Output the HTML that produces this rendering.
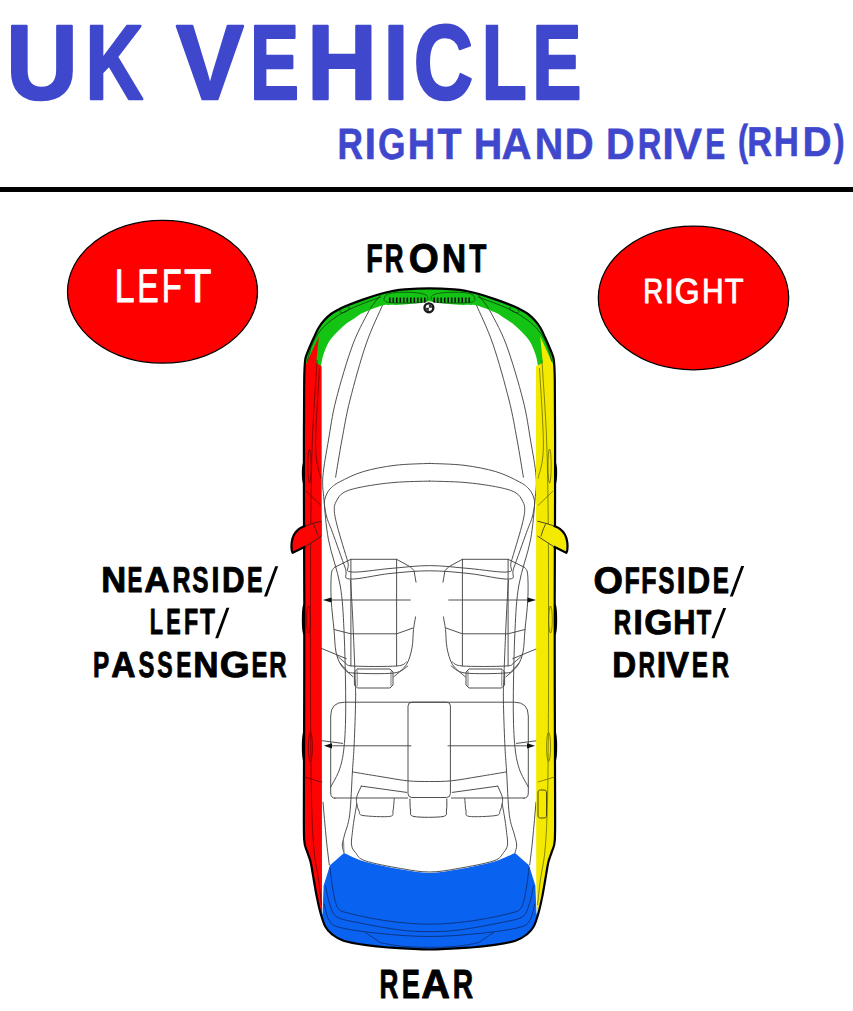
<!DOCTYPE html>
<html><head><meta charset="utf-8">
<style>
html,body{margin:0;padding:0;background:#fff;}
body{width:853px;height:1011px;overflow:hidden;position:relative;}
svg{position:absolute;left:0;top:0;text-rendering:geometricPrecision;}
.b{font-family:"Liberation Sans",sans-serif;font-weight:bold;}
.r{font-family:"Liberation Sans",sans-serif;font-weight:normal;}
</style></head>
<body>
<svg width="853" height="1011" viewBox="0 0 853 1011">
<rect x="0" y="187" width="853" height="5" fill="#000"/>
<ellipse cx="162.5" cy="291.7" rx="95" ry="71.4" fill="#ff0000" stroke="#000" stroke-width="1.25"/>
<ellipse cx="693.5" cy="298" rx="95.2" ry="71.8" fill="#ff0000" stroke="#000" stroke-width="1.25"/>
<g id="car">
<path d="M370.20,308.60 C367.33,314.50 358.70,328.77 353.00,344.00 C347.30,359.23 340.08,384.00 336.00,400.00 C331.92,416.00 330.68,427.27 328.50,440.00 C326.32,452.73 323.65,466.40 322.90,476.40 C322.15,486.40 323.07,489.42 324.00,500.00 C324.93,510.58 325.82,525.73 328.50,539.90 C331.18,554.07 337.52,569.92 340.10,585.00 C342.68,600.08 343.07,611.23 344.00,630.40 C344.93,649.57 345.63,681.17 345.70,700.00 C345.77,718.83 345.37,732.02 344.40,743.40 C343.43,754.78 342.18,761.03 339.90,768.30 C337.62,775.57 332.23,783.88 330.70,787.00" fill="none" stroke="#474747" stroke-width="0.95" stroke-linecap="round" stroke-linejoin="round"/>
<path d="M488.80,308.60 C491.67,314.50 500.30,328.77 506.00,344.00 C511.70,359.23 518.92,384.00 523.00,400.00 C527.08,416.00 528.32,427.27 530.50,440.00 C532.68,452.73 535.35,466.40 536.10,476.40 C536.85,486.40 535.93,489.42 535.00,500.00 C534.07,510.58 533.18,525.73 530.50,539.90 C527.82,554.07 521.48,569.92 518.90,585.00 C516.32,600.08 515.93,611.23 515.00,630.40 C514.07,649.57 513.37,681.17 513.30,700.00 C513.23,718.83 513.63,732.02 514.60,743.40 C515.57,754.78 516.82,761.03 519.10,768.30 C521.38,775.57 526.77,783.88 528.30,787.00" fill="none" stroke="#474747" stroke-width="0.95" stroke-linecap="round" stroke-linejoin="round"/>
<path d="M382.50,305.30 C379.77,311.75 371.52,328.22 366.10,344.00 C360.68,359.78 354.03,384.00 350.00,400.00 C345.97,416.00 344.30,427.13 341.90,440.00 C339.50,452.87 336.65,471.00 335.60,477.20" fill="none" stroke="#474747" stroke-width="0.95" stroke-linecap="round" stroke-linejoin="round"/>
<path d="M476.50,305.30 C479.23,311.75 487.48,328.22 492.90,344.00 C498.32,359.78 504.97,384.00 509.00,400.00 C513.03,416.00 514.70,427.13 517.10,440.00 C519.50,452.87 522.35,471.00 523.40,477.20" fill="none" stroke="#474747" stroke-width="0.95" stroke-linecap="round" stroke-linejoin="round"/>
<path d="M429.50,463.40 C423.75,463.72 406.03,463.93 395.00,465.30 C383.97,466.67 372.53,468.83 363.30,471.60 C354.07,474.37 345.15,479.00 339.60,481.90 C334.05,484.80 332.35,486.48 330.00,489.00 C327.65,491.52 326.42,494.33 325.50,497.00 C324.58,499.67 324.25,501.50 324.50,505.00 C324.75,508.50 325.68,513.47 327.00,518.00 C328.32,522.53 329.35,523.83 332.40,532.20 C335.45,540.57 342.45,560.40 345.30,568.20 C348.15,576.00 342.05,578.12 349.50,579.00 C356.95,579.88 376.67,574.87 390.00,573.50 C403.33,572.13 416.33,570.80 429.50,570.80 C442.67,570.80 455.67,572.13 469.00,573.50 C482.33,574.87 502.05,579.88 509.50,579.00 C516.95,578.12 510.85,576.00 513.70,568.20 C516.55,560.40 523.55,540.57 526.60,532.20 C529.65,523.83 530.68,522.53 532.00,518.00 C533.32,513.47 534.25,508.50 534.50,505.00 C534.75,501.50 534.42,499.67 533.50,497.00 C532.58,494.33 531.35,491.52 529.00,489.00 C526.65,486.48 524.95,484.80 519.40,481.90 C513.85,479.00 504.93,474.37 495.70,471.60 C486.47,468.83 475.03,466.67 464.00,465.30 C452.97,463.93 435.25,463.72 429.50,463.40" fill="none" stroke="#474747" stroke-width="0.95" stroke-linecap="round" stroke-linejoin="round"/>
<path d="M429.50,481.10 C423.75,481.32 406.03,481.47 395.00,482.40 C383.97,483.33 371.80,485.05 363.30,486.70 C354.80,488.35 348.50,489.87 344.00,492.30 C339.50,494.73 337.92,498.30 336.30,501.30 C334.68,504.30 334.10,506.02 334.30,510.30 C334.50,514.58 335.25,518.42 337.50,527.00 C339.75,535.58 345.58,554.32 347.80,561.80 C350.02,569.28 343.77,570.78 350.80,571.90 C357.83,573.02 376.88,569.55 390.00,568.50 C403.12,567.45 416.33,565.60 429.50,565.60 C442.67,565.60 455.88,567.45 469.00,568.50 C482.12,569.55 501.17,573.02 508.20,571.90 C515.23,570.78 508.98,569.28 511.20,561.80 C513.42,554.32 519.25,535.58 521.50,527.00 C523.75,518.42 524.50,514.58 524.70,510.30 C524.90,506.02 524.32,504.30 522.70,501.30 C521.08,498.30 519.50,494.73 515.00,492.30 C510.50,489.87 504.20,488.35 495.70,486.70 C487.20,485.05 475.03,483.33 464.00,482.40 C452.97,481.47 435.25,481.32 429.50,481.10" fill="none" stroke="#474747" stroke-width="0.95" stroke-linecap="round" stroke-linejoin="round"/>
<path d="M350.60,580.40 C350.97,587.00 352.07,604.40 352.80,620.00 C353.53,635.60 354.53,660.67 355.00,674.00 C355.47,687.33 355.73,688.43 355.60,700.00 C355.47,711.57 354.73,731.42 354.20,743.40 C353.67,755.38 353.15,760.03 352.40,771.90 C351.65,783.77 351.02,804.08 349.70,814.60 C348.38,825.12 345.73,829.93 344.50,835.00 C343.27,840.07 342.38,842.05 342.30,845.00 C342.22,847.95 343.72,851.42 344.00,852.70" fill="none" stroke="#474747" stroke-width="0.95" stroke-linecap="round" stroke-linejoin="round"/>
<path d="M508.40,580.40 C508.03,587.00 506.93,604.40 506.20,620.00 C505.47,635.60 504.47,660.67 504.00,674.00 C503.53,687.33 503.27,688.43 503.40,700.00 C503.53,711.57 504.27,731.42 504.80,743.40 C505.33,755.38 505.85,760.03 506.60,771.90 C507.35,783.77 507.98,804.08 509.30,814.60 C510.62,825.12 513.27,829.93 514.50,835.00 C515.73,840.07 516.62,842.05 516.70,845.00 C516.78,847.95 515.28,851.42 515.00,852.70" fill="none" stroke="#474747" stroke-width="0.95" stroke-linecap="round" stroke-linejoin="round"/>
<path d="M350.90,559.30 L350.90,666.00" fill="none" stroke="#474747" stroke-width="0.95" stroke-linecap="round" stroke-linejoin="round"/>
<path d="M508.10,559.30 L508.10,666.00" fill="none" stroke="#474747" stroke-width="0.95" stroke-linecap="round" stroke-linejoin="round"/>
<path d="M396.60,559.30 L396.60,666.00" fill="none" stroke="#474747" stroke-width="0.95" stroke-linecap="round" stroke-linejoin="round"/>
<path d="M462.40,559.30 L462.40,666.00" fill="none" stroke="#474747" stroke-width="0.95" stroke-linecap="round" stroke-linejoin="round"/>
<path d="M334.70,567.30 L350.80,559.30 L396.60,559.30 L410.10,566.70 L414.00,570.60 L416.00,582.20" fill="none" stroke="#474747" stroke-width="0.95" stroke-linecap="round" stroke-linejoin="round"/>
<path d="M524.30,567.30 L508.20,559.30 L462.40,559.30 L448.90,566.70 L445.00,570.60 L443.00,582.20" fill="none" stroke="#474747" stroke-width="0.95" stroke-linecap="round" stroke-linejoin="round"/>
<path d="M334.70,567.30 C334.15,568.38 331.98,568.35 331.40,573.80 C330.82,579.25 330.77,590.72 331.20,600.00 C331.63,609.28 333.20,620.83 334.00,629.50 C334.80,638.17 334.72,645.92 336.00,652.00 C337.28,658.08 338.87,661.88 341.70,666.00 C344.53,670.12 351.12,674.92 353.00,676.70" fill="none" stroke="#474747" stroke-width="0.95" stroke-linecap="round" stroke-linejoin="round"/>
<path d="M524.30,567.30 C524.85,568.38 527.02,568.35 527.60,573.80 C528.18,579.25 528.23,590.72 527.80,600.00 C527.37,609.28 525.80,620.83 525.00,629.50 C524.20,638.17 524.28,645.92 523.00,652.00 C521.72,658.08 520.13,661.88 517.30,666.00 C514.47,670.12 507.88,674.92 506.00,676.70" fill="none" stroke="#474747" stroke-width="0.95" stroke-linecap="round" stroke-linejoin="round"/>
<path d="M415.60,616.90 C415.25,619.00 414.10,624.35 413.50,629.50 C412.90,634.65 413.18,641.93 412.00,647.80 C410.82,653.67 409.43,659.88 406.40,664.70 C403.37,669.52 395.90,674.70 393.80,676.70" fill="none" stroke="#474747" stroke-width="0.95" stroke-linecap="round" stroke-linejoin="round"/>
<path d="M443.40,616.90 C443.75,619.00 444.90,624.35 445.50,629.50 C446.10,634.65 445.82,641.93 447.00,647.80 C448.18,653.67 449.57,659.88 452.60,664.70 C455.63,669.52 463.10,674.70 465.20,676.70" fill="none" stroke="#474747" stroke-width="0.95" stroke-linecap="round" stroke-linejoin="round"/>
<path d="M334.00,629.50 L350.90,633.80 L396.60,633.80 L412.80,628.10" fill="none" stroke="#474747" stroke-width="0.95" stroke-linecap="round" stroke-linejoin="round"/>
<path d="M525.00,629.50 L508.10,633.80 L462.40,633.80 L446.20,628.10" fill="none" stroke="#474747" stroke-width="0.95" stroke-linecap="round" stroke-linejoin="round"/>
<path d="M337.50,656.00 C338.75,657.08 342.42,660.83 345.00,662.50 C347.58,664.17 344.40,665.42 353.00,666.00 C361.60,666.58 387.70,666.68 396.60,666.00 C405.50,665.32 404.77,662.58 406.40,661.90" fill="none" stroke="#474747" stroke-width="0.95" stroke-linecap="round" stroke-linejoin="round"/>
<path d="M521.50,656.00 C520.25,657.08 516.58,660.83 514.00,662.50 C511.42,664.17 514.60,665.42 506.00,666.00 C497.40,666.58 471.30,666.68 462.40,666.00 C453.50,665.32 454.23,662.58 452.60,661.90" fill="none" stroke="#474747" stroke-width="0.95" stroke-linecap="round" stroke-linejoin="round"/>
<path d="M340.30,663.30 C341.25,664.33 343.88,667.88 346.00,669.50 C348.12,671.12 345.03,672.42 353.00,673.00 C360.97,673.58 384.67,674.17 393.80,673.00 C402.93,671.83 405.47,667.17 407.80,666.00" fill="none" stroke="#474747" stroke-width="0.95" stroke-linecap="round" stroke-linejoin="round"/>
<path d="M518.70,663.30 C517.75,664.33 515.12,667.88 513.00,669.50 C510.88,671.12 513.97,672.42 506.00,673.00 C498.03,673.58 474.33,674.17 465.20,673.00 C456.07,671.83 453.53,667.17 451.20,666.00" fill="none" stroke="#474747" stroke-width="0.95" stroke-linecap="round" stroke-linejoin="round"/>
<path d="M357.40,669.00 L390.00,669.00 L393.00,672.00 L393.00,685.00 L390.00,688.00 L357.40,688.00 L354.40,685.00 L354.40,672.00 L357.40,669.00" fill="none" stroke="#474747" stroke-width="0.95" stroke-linecap="round" stroke-linejoin="round"/>
<path d="M501.60,669.00 L469.00,669.00 L466.00,672.00 L466.00,685.00 L469.00,688.00 L501.60,688.00 L504.60,685.00 L504.60,672.00 L501.60,669.00" fill="none" stroke="#474747" stroke-width="0.95" stroke-linecap="round" stroke-linejoin="round"/>
<path d="M357.20,671.00 L357.20,686.00" fill="none" stroke="#474747" stroke-width="0.7" stroke-linecap="round" stroke-linejoin="round"/>
<path d="M501.80,671.00 L501.80,686.00" fill="none" stroke="#474747" stroke-width="0.7" stroke-linecap="round" stroke-linejoin="round"/>
<path d="M391.00,671.00 L391.00,686.00" fill="none" stroke="#474747" stroke-width="0.7" stroke-linecap="round" stroke-linejoin="round"/>
<path d="M468.00,671.00 L468.00,686.00" fill="none" stroke="#474747" stroke-width="0.7" stroke-linecap="round" stroke-linejoin="round"/>
<path d="M331.00,600.00 L410.30,600.00" fill="none" stroke="#474747" stroke-width="0.95" stroke-linecap="round" stroke-linejoin="round"/>
<path d="M528.00,600.00 L448.70,600.00" fill="none" stroke="#474747" stroke-width="0.95" stroke-linecap="round" stroke-linejoin="round"/>
<path d="M331.90,745.80 L411.00,745.80" fill="none" stroke="#474747" stroke-width="0.95" stroke-linecap="round" stroke-linejoin="round"/>
<path d="M527.10,745.80 L448.00,745.80" fill="none" stroke="#474747" stroke-width="0.95" stroke-linecap="round" stroke-linejoin="round"/>
<path d="M315.00,645.70 L346.30,658.70" fill="none" stroke="#444" stroke-width="0.95" stroke-linecap="round" stroke-linejoin="round"/>
<path d="M544.00,645.70 L512.70,658.70" fill="none" stroke="#444" stroke-width="0.95" stroke-linecap="round" stroke-linejoin="round"/>
<path d="M322.10,740.70 L342.60,743.40" fill="none" stroke="#474747" stroke-width="0.95" stroke-linecap="round" stroke-linejoin="round"/>
<path d="M536.90,740.70 L516.40,743.40" fill="none" stroke="#474747" stroke-width="0.95" stroke-linecap="round" stroke-linejoin="round"/>
<path d="M315.00,777.20 L322.10,781.70" fill="none" stroke="#444" stroke-width="0.95" stroke-linecap="round" stroke-linejoin="round"/>
<path d="M544.00,777.20 L536.90,781.70" fill="none" stroke="#444" stroke-width="0.95" stroke-linecap="round" stroke-linejoin="round"/>
<path d="M334.60,798.00 L407.60,798.00" fill="none" stroke="#474747" stroke-width="0.95" stroke-linecap="round" stroke-linejoin="round"/>
<path d="M524.40,798.00 L451.40,798.00" fill="none" stroke="#474747" stroke-width="0.95" stroke-linecap="round" stroke-linejoin="round"/>
<path d="M352.40,771.90 C357.00,772.67 370.80,775.02 380.00,776.50 C389.20,777.98 399.35,779.97 407.60,780.80 C415.85,781.63 422.20,781.50 429.50,781.50 C436.80,781.50 443.15,781.63 451.40,780.80 C459.65,779.97 469.80,777.98 479.00,776.50 C488.20,775.02 502.00,772.67 506.60,771.90" fill="none" stroke="#474747" stroke-width="0.95" stroke-linecap="round" stroke-linejoin="round"/>
<path d="M361.30,786.10 L406.70,792.40" fill="none" stroke="#474747" stroke-width="0.95" stroke-linecap="round" stroke-linejoin="round"/>
<path d="M497.70,786.10 L452.30,792.40" fill="none" stroke="#474747" stroke-width="0.95" stroke-linecap="round" stroke-linejoin="round"/>
<path d="M361.30,786.10 C360.55,787.88 357.55,793.82 356.80,796.80 C356.05,799.78 356.43,801.63 356.80,804.00 C357.17,806.37 357.97,809.08 359.00,811.00 C360.03,812.92 357.87,814.60 363.00,815.50 C368.13,816.40 384.80,817.15 389.80,816.40 C394.80,815.65 392.27,813.97 393.00,811.00 C393.73,808.03 394.00,800.67 394.20,798.60" fill="none" stroke="#474747" stroke-width="0.95" stroke-linecap="round" stroke-linejoin="round"/>
<path d="M497.70,786.10 C498.45,787.88 501.45,793.82 502.20,796.80 C502.95,799.78 502.57,801.63 502.20,804.00 C501.83,806.37 501.03,809.08 500.00,811.00 C498.97,812.92 501.13,814.60 496.00,815.50 C490.87,816.40 474.20,817.15 469.20,816.40 C464.20,815.65 466.73,813.97 466.00,811.00 C465.27,808.03 465.00,800.67 464.80,798.60" fill="none" stroke="#474747" stroke-width="0.95" stroke-linecap="round" stroke-linejoin="round"/>
<path d="M356.80,804.00 C356.33,806.67 354.73,815.27 354.00,820.00 C353.27,824.73 352.82,828.25 352.40,832.40 C351.98,836.55 350.98,841.53 351.50,844.90 C352.02,848.27 353.22,849.95 355.50,852.60 C357.78,855.25 357.73,858.17 365.20,860.80 C372.67,863.43 389.58,866.53 400.30,868.40 C411.02,870.27 419.77,872.00 429.50,872.00 C439.23,872.00 447.98,870.27 458.70,868.40 C469.42,866.53 486.33,863.43 493.80,860.80 C501.27,858.17 501.22,855.25 503.50,852.60 C505.78,849.95 506.98,848.27 507.50,844.90 C508.02,841.53 507.02,836.55 506.60,832.40 C506.18,828.25 505.73,824.73 505.00,820.00 C504.27,815.27 502.67,806.67 502.20,804.00" fill="none" stroke="#474747" stroke-width="0.95" stroke-linecap="round" stroke-linejoin="round"/>
<path d="M323.00,802.20 C323.57,808.50 325.35,829.53 326.40,840.00 C327.45,850.47 328.82,860.83 329.30,865.00" fill="none" stroke="#474747" stroke-width="0.95" stroke-linecap="round" stroke-linejoin="round"/>
<path d="M536.00,802.20 C535.43,808.50 533.65,829.53 532.60,840.00 C531.55,850.47 530.18,860.83 529.70,865.00" fill="none" stroke="#474747" stroke-width="0.95" stroke-linecap="round" stroke-linejoin="round"/>
<path d="M410.00,799.00 C410.08,800.83 409.83,807.08 410.50,810.00 C411.17,812.92 408.58,815.42 414.00,816.50 C419.42,817.58 437.58,817.58 443.00,816.50 C448.42,815.42 445.87,812.92 446.50,810.00 C447.13,807.08 446.75,800.83 446.80,799.00" fill="none" stroke="#474747" stroke-width="1.0" stroke-linecap="round" stroke-linejoin="round"/>
<path d="M335.5,798.2 Q330.7,798.2 330.7,793 L330.7,716 Q330.7,702.2 344.5,702.2 L514.5,702.2 Q528.3,702.2 528.3,716 L528.3,793 Q528.3,798.2 523.5,798.2" fill="none" stroke="#474747" stroke-width="0.95" />
<path d="M412,702.2 L446.7,702.2 Q450.4,702.2 450.4,706 L450.4,793.5 Q450.4,797.5 446.5,797.5 L412,797.5 Q408,797.5 408,793.5 L408,706 Q408,702.2 412,702.2Z" fill="none" stroke="#474747" stroke-width="0.95" />
<path d="M321.00,366.30 C321.33,364.58 321.88,359.72 323.00,356.00 C324.12,352.28 326.12,347.17 327.70,344.00 C329.28,340.83 330.58,339.33 332.50,337.00 C334.42,334.67 336.88,332.25 339.20,330.00 C341.52,327.75 343.67,325.58 346.40,323.50 C349.13,321.42 352.83,319.28 355.60,317.50 C358.37,315.72 358.60,314.78 363.00,312.80 C367.40,310.82 377.75,306.92 382.00,305.60 C386.25,304.28 385.50,305.03 388.50,304.90 C391.50,304.77 395.80,305.02 400.00,304.80 C404.20,304.58 410.03,303.97 413.70,303.60 C417.37,303.23 419.37,303.00 422.00,302.60 C424.63,302.20 427.00,301.20 429.50,301.20 C432.00,301.20 434.37,302.20 437.00,302.60 C439.63,303.00 441.63,303.23 445.30,303.60 C448.97,303.97 454.80,304.58 459.00,304.80 C463.20,305.02 467.50,304.77 470.50,304.90 C473.50,305.03 472.75,304.28 477.00,305.60 C481.25,306.92 491.60,310.82 496.00,312.80 C500.40,314.78 500.63,315.72 503.40,317.50 C506.17,319.28 509.87,321.42 512.60,323.50 C515.33,325.58 517.48,327.75 519.80,330.00 C522.12,332.25 524.58,334.67 526.50,337.00 C528.42,339.33 529.72,340.83 531.30,344.00 C532.88,347.17 534.88,352.28 536.00,356.00 C537.12,359.72 537.67,364.58 538.00,366.30 L553.00,366.3 L554.00,366.30 C553.90,365.25 553.88,362.48 553.40,360.00 C552.92,357.52 552.47,355.10 551.10,351.40 C549.73,347.70 546.97,341.70 545.20,337.80 C543.43,333.90 542.20,330.88 540.50,328.00 C538.80,325.12 537.08,322.83 535.00,320.50 C532.92,318.17 530.53,315.88 528.00,314.00 C525.47,312.12 522.37,310.57 519.80,309.20 C517.23,307.83 516.53,307.40 512.60,305.80 C508.67,304.20 501.95,301.60 496.20,299.60 C490.45,297.60 483.03,295.23 478.10,293.80 C473.17,292.37 470.60,291.75 466.60,291.00 C462.60,290.25 460.28,289.75 454.10,289.30 C447.92,288.85 437.70,288.30 429.50,288.30 C421.30,288.30 411.08,288.85 404.90,289.30 C398.72,289.75 396.40,290.25 392.40,291.00 C388.40,291.75 385.83,292.37 380.90,293.80 C375.97,295.23 368.55,297.60 362.80,299.60 C357.05,301.60 350.33,304.20 346.40,305.80 C342.47,307.40 341.77,307.83 339.20,309.20 C336.63,310.57 333.53,312.12 331.00,314.00 C328.47,315.88 326.08,318.17 324.00,320.50 C321.92,322.83 320.20,325.12 318.50,328.00 C316.80,330.88 315.57,333.90 313.80,337.80 C312.03,341.70 309.27,347.70 307.90,351.40 C306.53,355.10 306.08,357.52 305.60,360.00 C305.12,362.48 305.10,365.25 305.00,366.30 L306,366.3Z" fill="#14c414" stroke="none" stroke-width="1" />
<path d="M318.80,336.60 L306.70,362.70 L305.00,366.00 C304.87,368.33 304.38,367.67 304.20,380.00 C304.02,392.33 303.93,416.67 303.90,440.00 C303.87,463.33 303.93,493.33 304.00,520.00 C304.07,546.67 304.27,570.00 304.30,600.00 C304.33,630.00 304.27,666.67 304.20,700.00 C304.13,733.33 303.90,776.67 303.90,800.00 C303.90,823.33 303.67,831.43 304.20,840.00 C304.73,848.57 306.05,847.80 307.10,851.40 C308.15,855.00 309.55,857.82 310.50,861.60 C311.45,865.38 311.75,868.22 312.80,874.10 C313.85,879.98 315.47,890.25 316.80,896.90 C318.13,903.55 320.13,911.15 320.80,914.00 L322,914 L321.6,366.3 L316.2,362.7 Z" fill="#fd0303" stroke="none" stroke-width="1" />
<path d="M540.20,336.60 L552.30,362.70 L554.00,366.00 C554.13,368.33 554.62,367.67 554.80,380.00 C554.98,392.33 555.07,416.67 555.10,440.00 C555.13,463.33 555.07,493.33 555.00,520.00 C554.93,546.67 554.73,570.00 554.70,600.00 C554.67,630.00 554.73,666.67 554.80,700.00 C554.87,733.33 555.10,776.67 555.10,800.00 C555.10,823.33 555.33,831.43 554.80,840.00 C554.27,848.57 552.95,847.80 551.90,851.40 C550.85,855.00 549.45,857.82 548.50,861.60 C547.55,865.38 547.25,868.22 546.20,874.10 C545.15,879.98 543.53,890.25 542.20,896.90 C540.87,903.55 538.87,911.15 538.20,914.00 L537.0,914 L536.2,880 L536.0,366.3 L542.8,362.7 Z" fill="#f4ea00" stroke="none" stroke-width="1" />
<path d="M322.50,914.00 L323.60,885.70 L330.00,865.30 L344.00,853.00 L344.00,853.00 C347.53,854.47 355.82,859.08 365.20,861.80 C374.58,864.52 389.58,867.45 400.30,869.30 C411.02,871.15 419.77,872.90 429.50,872.90 C439.23,872.90 447.98,871.15 458.70,869.30 C469.42,867.45 484.42,864.52 493.80,861.80 C503.18,859.08 511.47,854.47 515.00,853.00 L515.00,853.00 L529.00,865.30 L535.40,885.70 L536.50,914.00 L536.50,914.00 C536.78,914.00 538.67,911.92 538.20,914.00 C537.73,916.08 535.58,923.10 533.70,926.50 C531.82,929.90 529.93,932.03 526.90,934.40 C523.87,936.77 521.20,938.90 515.50,940.70 C509.80,942.50 500.12,944.07 492.70,945.20 C485.28,946.33 481.53,946.78 471.00,947.50 C460.47,948.22 436.42,949.17 429.50,949.50 L429.50,949.50 C422.58,949.17 398.53,948.22 388.00,947.50 C377.47,946.78 373.72,946.33 366.30,945.20 C358.88,944.07 349.20,942.50 343.50,940.70 C337.80,938.90 335.13,936.77 332.10,934.40 C329.07,932.03 327.18,929.90 325.30,926.50 C323.42,923.10 321.27,916.08 320.80,914.00 C320.33,911.92 322.22,914.00 322.50,914.00Z" fill="#0a62f0" stroke="none" stroke-width="1" />
<path d="M429.50,288.30 C421.30,288.30 411.08,288.85 404.90,289.30 C398.72,289.75 396.40,290.25 392.40,291.00 C388.40,291.75 385.83,292.37 380.90,293.80 C375.97,295.23 368.55,297.60 362.80,299.60 C357.05,301.60 350.33,304.20 346.40,305.80 C342.47,307.40 341.77,307.83 339.20,309.20 C336.63,310.57 333.53,312.12 331.00,314.00 C328.47,315.88 326.08,318.17 324.00,320.50 C321.92,322.83 320.20,325.12 318.50,328.00 C316.80,330.88 315.57,333.90 313.80,337.80 C312.03,341.70 309.33,347.70 307.90,351.40 C306.47,355.10 305.82,355.23 305.20,360.00 C304.58,364.77 304.42,366.67 304.20,380.00 C303.98,393.33 303.93,416.67 303.90,440.00 C303.87,463.33 303.93,493.33 304.00,520.00 C304.07,546.67 304.27,570.00 304.30,600.00 C304.33,630.00 304.27,666.67 304.20,700.00 C304.13,733.33 303.90,776.67 303.90,800.00 C303.90,823.33 303.67,831.43 304.20,840.00 C304.73,848.57 306.05,847.80 307.10,851.40 C308.15,855.00 309.55,857.82 310.50,861.60 C311.45,865.38 311.75,868.22 312.80,874.10 C313.85,879.98 315.47,890.25 316.80,896.90 C318.13,903.55 319.38,909.07 320.80,914.00 C322.22,918.93 323.42,923.10 325.30,926.50 C327.18,929.90 329.07,932.03 332.10,934.40 C335.13,936.77 337.80,938.90 343.50,940.70 C349.20,942.50 358.88,944.07 366.30,945.20 C373.72,946.33 377.47,946.78 388.00,947.50 C398.53,948.22 415.67,949.50 429.50,949.50 C443.33,949.50 460.47,948.22 471.00,947.50 C481.53,946.78 485.28,946.33 492.70,945.20 C500.12,944.07 509.80,942.50 515.50,940.70 C521.20,938.90 523.87,936.77 526.90,934.40 C529.93,932.03 531.82,929.90 533.70,926.50 C535.58,923.10 536.78,918.93 538.20,914.00 C539.62,909.07 540.87,903.55 542.20,896.90 C543.53,890.25 545.15,879.98 546.20,874.10 C547.25,868.22 547.55,865.38 548.50,861.60 C549.45,857.82 550.85,855.00 551.90,851.40 C552.95,847.80 554.27,848.57 554.80,840.00 C555.33,831.43 555.10,823.33 555.10,800.00 C555.10,776.67 554.87,733.33 554.80,700.00 C554.73,666.67 554.67,630.00 554.70,600.00 C554.73,570.00 554.93,546.67 555.00,520.00 C555.07,493.33 555.13,463.33 555.10,440.00 C555.07,416.67 555.02,393.33 554.80,380.00 C554.58,366.67 554.42,364.77 553.80,360.00 C553.18,355.23 552.53,355.10 551.10,351.40 C549.67,347.70 546.97,341.70 545.20,337.80 C543.43,333.90 542.20,330.88 540.50,328.00 C538.80,325.12 537.08,322.83 535.00,320.50 C532.92,318.17 530.53,315.88 528.00,314.00 C525.47,312.12 522.37,310.57 519.80,309.20 C517.23,307.83 516.53,307.40 512.60,305.80 C508.67,304.20 501.95,301.60 496.20,299.60 C490.45,297.60 483.03,295.23 478.10,293.80 C473.17,292.37 470.60,291.75 466.60,291.00 C462.60,290.25 460.28,289.75 454.10,289.30 C447.92,288.85 437.70,288.30 429.50,288.30Z" fill="none" stroke="#000" stroke-width="2.2" />
<path d="M317.10,360.00 C316.32,373.17 313.45,412.33 312.40,439.00 C311.35,465.67 311.12,493.17 310.80,520.00 C310.48,546.83 310.55,570.00 310.50,600.00 C310.45,630.00 310.33,666.67 310.50,700.00 C310.67,733.33 310.92,775.00 311.50,800.00 C312.08,825.00 312.82,836.67 314.00,850.00 C315.18,863.33 317.35,870.83 318.60,880.00 C319.85,889.17 321.02,900.83 321.50,905.00" fill="none" stroke="#5a0505" stroke-width="0.7" />
<path d="M541.90,360.00 C542.68,373.17 545.55,412.33 546.60,439.00 C547.65,465.67 547.88,493.17 548.20,520.00 C548.52,546.83 548.45,570.00 548.50,600.00 C548.55,630.00 548.67,666.67 548.50,700.00 C548.33,733.33 548.08,775.00 547.50,800.00 C546.92,825.00 546.18,836.67 545.00,850.00 C543.82,863.33 541.65,870.83 540.40,880.00 C539.15,889.17 537.98,900.83 537.50,905.00" fill="none" stroke="#5a5a00" stroke-width="0.7" />
<path d="M319.50,368.00 C318.85,381.17 315.35,428.57 315.60,447.00 C315.85,465.43 320.10,473.33 321.00,478.60" fill="none" stroke="#5a0505" stroke-width="0.7" />
<path d="M539.50,368.00 C540.15,381.17 543.65,428.57 543.40,447.00 C543.15,465.43 538.90,473.33 538.00,478.60" fill="none" stroke="#5a5a00" stroke-width="0.7" />
<path d="M306.00,491.00 C308.50,493.42 318.50,503.08 321.00,505.50" fill="none" stroke="#5a0505" stroke-width="0.7" />
<path d="M553.00,491.00 C550.50,493.42 540.50,503.08 538.00,505.50" fill="none" stroke="#5a5a00" stroke-width="0.7" />
<path d="M304.50,777.00 C307.25,777.83 318.25,781.17 321.00,782.00" fill="none" stroke="#5a0505" stroke-width="0.7" />
<path d="M554.50,777.00 C551.75,777.83 540.75,781.17 538.00,782.00" fill="none" stroke="#5a5a00" stroke-width="0.7" />
<path d="M307.30,361.50 C308.08,358.75 309.88,350.08 312.00,345.00 C314.12,339.92 316.73,335.17 320.00,331.00 C323.27,326.83 327.27,323.33 331.60,320.00 C335.93,316.67 340.93,313.67 346.00,311.00 C351.07,308.33 356.18,306.33 362.00,304.00 C367.82,301.67 377.75,298.17 380.90,297.00" fill="none" stroke="#0d3a0a" stroke-width="0.8" />
<path d="M551.70,361.50 C550.92,358.75 549.12,350.08 547.00,345.00 C544.88,339.92 542.27,335.17 539.00,331.00 C535.73,326.83 531.73,323.33 527.40,320.00 C523.07,316.67 518.07,313.67 513.00,311.00 C507.93,308.33 502.82,306.33 497.00,304.00 C491.18,301.67 481.25,298.17 478.10,297.00" fill="none" stroke="#0d3a0a" stroke-width="0.8" />
<path d="M370.20,308.60 C371.00,307.50 373.22,304.32 375.00,302.00 C376.78,299.68 379.92,295.92 380.90,294.70" fill="none" stroke="#0d3a0a" stroke-width="0.8" />
<path d="M488.80,308.60 C488.00,307.50 485.78,304.32 484.00,302.00 C482.22,299.68 479.08,295.92 478.10,294.70" fill="none" stroke="#0d3a0a" stroke-width="0.8" />
<path d="M340,311.5 a5,2.2 -25 1,0 9.5,-3.5 a5,2.2 -25 1,0 -9.5,3.5Z" fill="none" stroke="#0d3a0a" stroke-width="0.7" />
<path d="M519.0,311.5 a5,2.2 25 1,1 -9.5,-3.5 a5,2.2 25 1,1 9.5,3.5Z" fill="none" stroke="#0d3a0a" stroke-width="0.7" />
<path d="M384,299.5 C384,293 392,292.3 405,292.3 C420,292.3 428,294 428,298 C428,301.5 425,303 410,303 C392,303 384,303 384,299.5Z" fill="none" stroke="#0d3a0a" stroke-width="0.7" />
<path d="M475.0,299.5 C475.0,293 467.0,292.3 454.0,292.3 C439.0,292.3 431.0,294 431.0,298 C431.0,301.5 434.0,303 449.0,303 C467.0,303 475.0,303 475.0,299.5Z" fill="none" stroke="#0d3a0a" stroke-width="0.7" />
<path d="M389.80,297.6 L389.80,302.7" fill="none" stroke="#111" stroke-width="1.6" />
<path d="M469.20,297.6 L469.20,302.7" fill="none" stroke="#111" stroke-width="1.6" />
<path d="M393.30,297.6 L393.30,302.7" fill="none" stroke="#111" stroke-width="1.6" />
<path d="M465.70,297.6 L465.70,302.7" fill="none" stroke="#111" stroke-width="1.6" />
<path d="M396.80,297.6 L396.80,302.7" fill="none" stroke="#111" stroke-width="1.6" />
<path d="M462.20,297.6 L462.20,302.7" fill="none" stroke="#111" stroke-width="1.6" />
<path d="M400.30,297.6 L400.30,302.7" fill="none" stroke="#111" stroke-width="1.6" />
<path d="M458.70,297.6 L458.70,302.7" fill="none" stroke="#111" stroke-width="1.6" />
<path d="M403.80,297.6 L403.80,302.7" fill="none" stroke="#111" stroke-width="1.6" />
<path d="M455.20,297.6 L455.20,302.7" fill="none" stroke="#111" stroke-width="1.6" />
<path d="M407.30,297.6 L407.30,302.7" fill="none" stroke="#111" stroke-width="1.6" />
<path d="M451.70,297.6 L451.70,302.7" fill="none" stroke="#111" stroke-width="1.6" />
<path d="M410.80,297.6 L410.80,302.7" fill="none" stroke="#111" stroke-width="1.6" />
<path d="M448.20,297.6 L448.20,302.7" fill="none" stroke="#111" stroke-width="1.6" />
<path d="M414.30,297.6 L414.30,302.7" fill="none" stroke="#111" stroke-width="1.6" />
<path d="M444.70,297.6 L444.70,302.7" fill="none" stroke="#111" stroke-width="1.6" />
<path d="M417.80,297.6 L417.80,302.7" fill="none" stroke="#111" stroke-width="1.6" />
<path d="M441.20,297.6 L441.20,302.7" fill="none" stroke="#111" stroke-width="1.6" />
<path d="M421.30,297.6 L421.30,302.7" fill="none" stroke="#111" stroke-width="1.6" />
<path d="M437.70,297.6 L437.70,302.7" fill="none" stroke="#111" stroke-width="1.6" />
<path d="M424.80,297.6 L424.80,302.7" fill="none" stroke="#111" stroke-width="1.6" />
<path d="M434.20,297.6 L434.20,302.7" fill="none" stroke="#111" stroke-width="1.6" />
<circle cx="428.9" cy="307.8" r="4.4" fill="#fff" stroke="#1a1a1a" stroke-width="2.4"/>
<path d="M428.9,307.8 L428.9,304.6 A3.2,3.2 0 0,1 432.1,307.8Z M428.9,307.8 L428.9,311 A3.2,3.2 0 0,1 425.7,307.8Z" fill="#333"/>
<path d="M329.90,867.00 C330.42,870.83 331.65,883.17 333.00,890.00 C334.35,896.83 335.17,904.08 338.00,908.00 C340.83,911.92 341.67,911.33 350.00,913.50 C358.33,915.67 374.75,919.22 388.00,921.00 C401.25,922.78 415.67,924.20 429.50,924.20 C443.33,924.20 457.75,922.78 471.00,921.00 C484.25,919.22 500.67,915.67 509.00,913.50 C517.33,911.33 518.17,911.92 521.00,908.00 C523.83,904.08 524.65,896.83 526.00,890.00 C527.35,883.17 528.58,870.83 529.10,867.00" fill="none" stroke="#0a2a6a" stroke-width="0.8" />
<path d="M325.30,885.50 C326.08,888.75 328.05,899.75 330.00,905.00 C331.95,910.25 332.00,914.00 337.00,917.00 C342.00,920.00 349.50,920.83 360.00,923.00 C370.50,925.17 388.42,928.57 400.00,930.00 C411.58,931.43 419.67,931.60 429.50,931.60 C439.33,931.60 447.42,931.43 459.00,930.00 C470.58,928.57 488.50,925.17 499.00,923.00 C509.50,920.83 517.00,920.00 522.00,917.00 C527.00,914.00 527.05,910.25 529.00,905.00 C530.95,899.75 532.92,888.75 533.70,885.50" fill="none" stroke="#0a2a6a" stroke-width="0.8" />
<path d="M324.20,903.70 C325.00,906.42 326.37,916.03 329.00,920.00 C331.63,923.97 331.50,925.25 340.00,927.50 C348.50,929.75 365.08,932.00 380.00,933.50 C394.92,935.00 413.00,936.50 429.50,936.50 C446.00,936.50 464.08,935.00 479.00,933.50 C493.92,932.00 510.50,929.75 519.00,927.50 C527.50,925.25 527.37,923.97 530.00,920.00 C532.63,916.03 534.00,906.42 534.80,903.70" fill="none" stroke="#0a2a6a" stroke-width="0.8" />
<path d="M365.30,932.50 C367.08,933.67 373.18,937.75 376.00,939.50 C378.82,941.25 377.37,941.83 382.20,943.00 C387.03,944.17 397.12,945.78 405.00,946.50 C412.88,947.22 421.33,947.30 429.50,947.30 C437.67,947.30 446.12,947.22 454.00,946.50 C461.88,945.78 471.97,944.17 476.80,943.00 C481.63,941.83 480.18,941.25 483.00,939.50 C485.82,937.75 491.92,933.67 493.70,932.50" fill="none" stroke="#0a2a6a" stroke-width="0.8" />
<path d="M343.50,840.00 C343.58,842.08 343.92,850.42 344.00,852.50" fill="none" stroke="#777" stroke-width="1" />
<path d="M322.8,600 L331.5,597.4 L331.5,602.6Z" fill="#111"/>
<path d="M536.2,600 L527.5,597.4 L527.5,602.6Z" fill="#111"/>
<path d="M323.9,745.8 L332,743.1999999999999 L332,748.4Z" fill="#111"/>
<path d="M535.1,745.8 L527.0,743.1999999999999 L527.0,748.4Z" fill="#111"/>
<path d="M304.2,462 C302.4,467 302.4,479 304.2,484" fill="none" stroke="#000" stroke-width="2" />
<path d="M554.8,462 C556.6,467 556.6,479 554.8,484" fill="none" stroke="#000" stroke-width="2" />
<path d="M304.2,604.7 C302.4,609.7 302.4,629.5 304.2,634.5" fill="none" stroke="#000" stroke-width="2" />
<path d="M554.8,604.7 C556.6,609.7 556.6,629.5 554.8,634.5" fill="none" stroke="#000" stroke-width="2" />
<path d="M304.2,732 C302.4,737 302.4,756 304.2,761" fill="none" stroke="#000" stroke-width="2" />
<path d="M554.8,732 C556.6,737 556.6,756 554.8,761" fill="none" stroke="#000" stroke-width="2" />
<ellipse cx="309.4" cy="466" rx="1.6" ry="17" fill="none" stroke="#5a0505" stroke-width="0.7"/>
<ellipse cx="549.6" cy="466" rx="1.6" ry="17" fill="none" stroke="#5a5a00" stroke-width="0.7"/>
<ellipse cx="308.5" cy="619.5" rx="1.8" ry="13.5" fill="none" stroke="#5a0505" stroke-width="0.7"/>
<ellipse cx="550.5" cy="619.5" rx="1.8" ry="13.5" fill="none" stroke="#5a5a00" stroke-width="0.7"/>
<ellipse cx="310.4" cy="747" rx="2" ry="14.5" fill="none" stroke="#5a0505" stroke-width="0.7"/>
<ellipse cx="548.6" cy="747" rx="2" ry="14.5" fill="none" stroke="#5a5a00" stroke-width="0.7"/>
<path d="M540.5,790 C538.5,790 538,791 538,793 L538,815 C538,817 538.5,818 540.5,818 L544,818 C546,818 546.5,817 546.5,815 L546.5,793 C546.5,791 546,790 544,790Z" fill="none" stroke="#3a3a00" stroke-width="0.9" />
<path d="M305.40,525.80 C304.35,526.32 300.98,527.45 299.10,528.90 C297.22,530.35 295.33,532.27 294.10,534.50 C292.87,536.73 292.10,539.72 291.70,542.30 C291.30,544.88 291.53,548.25 291.70,550.00 C291.87,551.75 292.53,552.33 292.70,552.80 L305.40,546.50 L321.60,536.00 L321.60,521.20 L313.10,523.30Z" fill="#fd0303" stroke="none" stroke-width="1" />
<path d="M305.40,525.80 C304.35,526.32 300.98,527.45 299.10,528.90 C297.22,530.35 295.33,532.27 294.10,534.50 C292.87,536.73 292.10,539.72 291.70,542.30 C291.30,544.88 291.53,548.25 291.70,550.00 C291.87,551.75 292.53,552.33 292.70,552.80 L305.40,546.50" fill="none" stroke="#000" stroke-width="2.2" stroke-linejoin="round"/>
<path d="M305.40,546.50 L321.60,536.00" fill="none" stroke="#222" stroke-width="0.8" />
<path d="M305.40,525.80 L313.10,523.30 L321.60,521.20" fill="none" stroke="#222" stroke-width="0.8" />
<path d="M313.10,523.30 C313.58,524.42 315.17,527.80 316.00,530.00 C316.83,532.20 317.75,535.42 318.10,536.50" fill="none" stroke="#222" stroke-width="0.8" />
<path d="M553.60,525.80 C554.65,526.32 558.02,527.45 559.90,528.90 C561.78,530.35 563.67,532.27 564.90,534.50 C566.13,536.73 566.90,539.72 567.30,542.30 C567.70,544.88 567.47,548.25 567.30,550.00 C567.13,551.75 566.47,552.33 566.30,552.80 L553.60,546.50 L537.40,536.00 L537.40,521.20 L545.90,523.30Z" fill="#f4ea00" stroke="none" stroke-width="1" />
<path d="M553.60,525.80 C554.65,526.32 558.02,527.45 559.90,528.90 C561.78,530.35 563.67,532.27 564.90,534.50 C566.13,536.73 566.90,539.72 567.30,542.30 C567.70,544.88 567.47,548.25 567.30,550.00 C567.13,551.75 566.47,552.33 566.30,552.80 L553.60,546.50" fill="none" stroke="#000" stroke-width="2.2" stroke-linejoin="round"/>
<path d="M553.60,546.50 L537.40,536.00" fill="none" stroke="#222" stroke-width="0.8" />
<path d="M553.60,525.80 L545.90,523.30 L537.40,521.20" fill="none" stroke="#222" stroke-width="0.8" />
<path d="M545.90,523.30 C545.42,524.42 543.83,527.80 543.00,530.00 C542.17,532.20 541.25,535.42 540.90,536.50" fill="none" stroke="#222" stroke-width="0.8" />
</g>
<text class="b" x="6.36" y="99.40" font-size="106.11" fill="#3f48cc" stroke="#3f48cc" stroke-width="2.6" stroke-linejoin="round" textLength="71.37" lengthAdjust="spacingAndGlyphs">U</text>
<text class="b" x="85.46" y="99.40" font-size="106.11" fill="#3f48cc" stroke="#3f48cc" stroke-width="2.6" stroke-linejoin="round" textLength="57.68" lengthAdjust="spacingAndGlyphs">K</text>
<text class="b" x="176.31" y="99.40" font-size="106.11" fill="#3f48cc" stroke="#3f48cc" stroke-width="2.6" stroke-linejoin="round" textLength="67.38" lengthAdjust="spacingAndGlyphs">V</text>
<text class="b" x="249.99" y="99.40" font-size="106.11" fill="#3f48cc" stroke="#3f48cc" stroke-width="2.6" stroke-linejoin="round" textLength="48.98" lengthAdjust="spacingAndGlyphs">E</text>
<text class="b" x="307.36" y="99.40" font-size="106.11" fill="#3f48cc" stroke="#3f48cc" stroke-width="2.6" stroke-linejoin="round" textLength="69.53" lengthAdjust="spacingAndGlyphs">H</text>
<text class="b" x="383.41" y="99.40" font-size="106.11" fill="#3f48cc" stroke="#3f48cc" stroke-width="2.6" stroke-linejoin="round" textLength="24.88" lengthAdjust="spacingAndGlyphs">I</text>
<text class="b" x="413.83" y="99.40" font-size="106.11" fill="#3f48cc" stroke="#3f48cc" stroke-width="2.6" stroke-linejoin="round" textLength="59.31" lengthAdjust="spacingAndGlyphs">C</text>
<text class="b" x="481.67" y="99.40" font-size="106.11" fill="#3f48cc" stroke="#3f48cc" stroke-width="2.6" stroke-linejoin="round" textLength="44.99" lengthAdjust="spacingAndGlyphs">L</text>
<text class="b" x="532.36" y="99.40" font-size="106.11" fill="#3f48cc" stroke="#3f48cc" stroke-width="2.6" stroke-linejoin="round" textLength="49.22" lengthAdjust="spacingAndGlyphs">E</text>
<text class="b" x="337.44" y="158.50" font-size="43.75" fill="#3f48cc" stroke="#3f48cc" stroke-width="0.6" stroke-linejoin="round" textLength="25.48" lengthAdjust="spacingAndGlyphs">R</text>
<text class="b" x="364.81" y="158.50" font-size="43.75" fill="#3f48cc" stroke="#3f48cc" stroke-width="0.6" stroke-linejoin="round" textLength="11.19" lengthAdjust="spacingAndGlyphs">I</text>
<text class="b" x="377.95" y="158.50" font-size="43.75" fill="#3f48cc" stroke="#3f48cc" stroke-width="0.6" stroke-linejoin="round" textLength="27.55" lengthAdjust="spacingAndGlyphs">G</text>
<text class="b" x="407.76" y="158.50" font-size="43.75" fill="#3f48cc" stroke="#3f48cc" stroke-width="0.6" stroke-linejoin="round" textLength="27.39" lengthAdjust="spacingAndGlyphs">H</text>
<text class="b" x="437.56" y="158.50" font-size="43.75" fill="#3f48cc" stroke="#3f48cc" stroke-width="0.6" stroke-linejoin="round" textLength="23.96" lengthAdjust="spacingAndGlyphs">T</text>
<text class="b" x="473.76" y="158.50" font-size="43.75" fill="#3f48cc" stroke="#3f48cc" stroke-width="0.6" stroke-linejoin="round" textLength="28.50" lengthAdjust="spacingAndGlyphs">H</text>
<text class="b" x="501.46" y="158.50" font-size="43.75" fill="#3f48cc" stroke="#3f48cc" stroke-width="0.6" stroke-linejoin="round" textLength="30.03" lengthAdjust="spacingAndGlyphs">A</text>
<text class="b" x="534.66" y="158.50" font-size="43.75" fill="#3f48cc" stroke="#3f48cc" stroke-width="0.6" stroke-linejoin="round" textLength="28.50" lengthAdjust="spacingAndGlyphs">N</text>
<text class="b" x="564.73" y="158.50" font-size="43.75" fill="#3f48cc" stroke="#3f48cc" stroke-width="0.6" stroke-linejoin="round" textLength="28.85" lengthAdjust="spacingAndGlyphs">D</text>
<text class="b" x="606.05" y="158.50" font-size="43.75" fill="#3f48cc" stroke="#3f48cc" stroke-width="0.6" stroke-linejoin="round" textLength="28.61" lengthAdjust="spacingAndGlyphs">D</text>
<text class="b" x="637.71" y="158.50" font-size="43.75" fill="#3f48cc" stroke="#3f48cc" stroke-width="0.6" stroke-linejoin="round" textLength="23.66" lengthAdjust="spacingAndGlyphs">R</text>
<text class="b" x="662.51" y="158.50" font-size="43.75" fill="#3f48cc" stroke="#3f48cc" stroke-width="0.6" stroke-linejoin="round" textLength="11.19" lengthAdjust="spacingAndGlyphs">I</text>
<text class="b" x="673.61" y="158.50" font-size="43.75" fill="#3f48cc" stroke="#3f48cc" stroke-width="0.6" stroke-linejoin="round" textLength="28.48" lengthAdjust="spacingAndGlyphs">V</text>
<text class="b" x="705.20" y="158.50" font-size="43.75" fill="#3f48cc" stroke="#3f48cc" stroke-width="0.6" stroke-linejoin="round" textLength="19.97" lengthAdjust="spacingAndGlyphs">E</text>
<text class="b" x="738.08" y="154.93" font-size="43.23" fill="#3f48cc" stroke="#3f48cc" stroke-width="0.6" stroke-linejoin="round" textLength="10.15" lengthAdjust="spacingAndGlyphs">(</text>
<text class="b" x="747.19" y="155.90" font-size="41.72" fill="#3f48cc" stroke="#3f48cc" stroke-width="0.6" stroke-linejoin="round" textLength="24.92" lengthAdjust="spacingAndGlyphs">R</text>
<text class="b" x="773.87" y="155.90" font-size="41.72" fill="#3f48cc" stroke="#3f48cc" stroke-width="0.6" stroke-linejoin="round" textLength="25.18" lengthAdjust="spacingAndGlyphs">H</text>
<text class="b" x="802.41" y="155.90" font-size="41.72" fill="#3f48cc" stroke="#3f48cc" stroke-width="0.6" stroke-linejoin="round" textLength="29.09" lengthAdjust="spacingAndGlyphs">D</text>
<text class="b" x="833.87" y="154.93" font-size="43.23" fill="#3f48cc" stroke="#3f48cc" stroke-width="0.6" stroke-linejoin="round" textLength="10.86" lengthAdjust="spacingAndGlyphs">)</text>
<text class="b" x="366.24" y="272.05" font-size="40.12" fill="#000" stroke="#000" stroke-width="0.9" stroke-linejoin="round" textLength="16.50" lengthAdjust="spacingAndGlyphs">F</text>
<text class="b" x="384.81" y="272.05" font-size="40.12" fill="#000" stroke="#000" stroke-width="0.9" stroke-linejoin="round" textLength="18.77" lengthAdjust="spacingAndGlyphs">R</text>
<text class="b" x="408.67" y="272.05" font-size="40.12" fill="#000" stroke="#000" stroke-width="0.9" stroke-linejoin="round" textLength="30.00" lengthAdjust="spacingAndGlyphs">O</text>
<text class="b" x="442.12" y="272.05" font-size="40.12" fill="#000" stroke="#000" stroke-width="0.9" stroke-linejoin="round" textLength="24.08" lengthAdjust="spacingAndGlyphs">N</text>
<text class="b" x="469.34" y="272.05" font-size="40.12" fill="#000" stroke="#000" stroke-width="0.9" stroke-linejoin="round" textLength="17.12" lengthAdjust="spacingAndGlyphs">T</text>
<text class="b" x="379.50" y="998.25" font-size="40.70" fill="#000" stroke="#000" stroke-width="0.9" stroke-linejoin="round" textLength="18.89" lengthAdjust="spacingAndGlyphs">R</text>
<text class="b" x="401.63" y="998.25" font-size="40.70" fill="#000" stroke="#000" stroke-width="0.9" stroke-linejoin="round" textLength="18.19" lengthAdjust="spacingAndGlyphs">E</text>
<text class="b" x="421.36" y="998.25" font-size="40.70" fill="#000" stroke="#000" stroke-width="0.9" stroke-linejoin="round" textLength="28.74" lengthAdjust="spacingAndGlyphs">A</text>
<text class="b" x="452.86" y="998.25" font-size="40.70" fill="#000" stroke="#000" stroke-width="0.9" stroke-linejoin="round" textLength="20.36" lengthAdjust="spacingAndGlyphs">R</text>
<text class="b" x="101.14" y="592.15" font-size="35.90" fill="#000" stroke="#000" stroke-width="0.9" stroke-linejoin="round" textLength="24.94" lengthAdjust="spacingAndGlyphs">N</text>
<text class="b" x="127.56" y="592.15" font-size="35.90" fill="#000" stroke="#000" stroke-width="0.9" stroke-linejoin="round" textLength="14.86" lengthAdjust="spacingAndGlyphs">E</text>
<text class="b" x="144.37" y="592.15" font-size="35.90" fill="#000" stroke="#000" stroke-width="0.9" stroke-linejoin="round" textLength="25.40" lengthAdjust="spacingAndGlyphs">A</text>
<text class="b" x="172.48" y="592.15" font-size="35.90" fill="#000" stroke="#000" stroke-width="0.9" stroke-linejoin="round" textLength="17.98" lengthAdjust="spacingAndGlyphs">R</text>
<text class="b" x="192.25" y="592.15" font-size="35.90" fill="#000" stroke="#000" stroke-width="0.9" stroke-linejoin="round" textLength="16.25" lengthAdjust="spacingAndGlyphs">S</text>
<text class="b" x="211.55" y="592.15" font-size="35.90" fill="#000" stroke="#000" stroke-width="0.9" stroke-linejoin="round" textLength="7.91" lengthAdjust="spacingAndGlyphs">I</text>
<text class="b" x="221.96" y="592.15" font-size="35.90" fill="#000" stroke="#000" stroke-width="0.9" stroke-linejoin="round" textLength="22.61" lengthAdjust="spacingAndGlyphs">D</text>
<text class="b" x="246.99" y="592.15" font-size="35.90" fill="#000" stroke="#000" stroke-width="0.9" stroke-linejoin="round" textLength="15.57" lengthAdjust="spacingAndGlyphs">E</text>
<text class="b" x="149.79" y="634.25" font-size="36.34" fill="#000" stroke="#000" stroke-width="0.9" stroke-linejoin="round" textLength="13.33" lengthAdjust="spacingAndGlyphs">L</text>
<text class="b" x="166.20" y="634.25" font-size="36.34" fill="#000" stroke="#000" stroke-width="0.9" stroke-linejoin="round" textLength="14.50" lengthAdjust="spacingAndGlyphs">E</text>
<text class="b" x="183.99" y="634.25" font-size="36.34" fill="#000" stroke="#000" stroke-width="0.9" stroke-linejoin="round" textLength="14.21" lengthAdjust="spacingAndGlyphs">F</text>
<text class="b" x="200.08" y="634.25" font-size="36.34" fill="#000" stroke="#000" stroke-width="0.9" stroke-linejoin="round" textLength="14.94" lengthAdjust="spacingAndGlyphs">T</text>
<text class="b" x="92.92" y="677.25" font-size="36.19" fill="#000" stroke="#000" stroke-width="0.9" stroke-linejoin="round" textLength="16.26" lengthAdjust="spacingAndGlyphs">P</text>
<text class="b" x="111.31" y="677.25" font-size="36.19" fill="#000" stroke="#000" stroke-width="0.9" stroke-linejoin="round" textLength="24.22" lengthAdjust="spacingAndGlyphs">A</text>
<text class="b" x="138.46" y="677.25" font-size="36.19" fill="#000" stroke="#000" stroke-width="0.9" stroke-linejoin="round" textLength="15.92" lengthAdjust="spacingAndGlyphs">S</text>
<text class="b" x="157.19" y="677.25" font-size="36.19" fill="#000" stroke="#000" stroke-width="0.9" stroke-linejoin="round" textLength="15.36" lengthAdjust="spacingAndGlyphs">S</text>
<text class="b" x="176.22" y="677.25" font-size="36.19" fill="#000" stroke="#000" stroke-width="0.9" stroke-linejoin="round" textLength="15.22" lengthAdjust="spacingAndGlyphs">E</text>
<text class="b" x="193.31" y="677.25" font-size="36.19" fill="#000" stroke="#000" stroke-width="0.9" stroke-linejoin="round" textLength="25.31" lengthAdjust="spacingAndGlyphs">N</text>
<text class="b" x="219.77" y="677.25" font-size="36.19" fill="#000" stroke="#000" stroke-width="0.9" stroke-linejoin="round" textLength="29.97" lengthAdjust="spacingAndGlyphs">G</text>
<text class="b" x="251.45" y="677.25" font-size="36.19" fill="#000" stroke="#000" stroke-width="0.9" stroke-linejoin="round" textLength="15.93" lengthAdjust="spacingAndGlyphs">E</text>
<text class="b" x="269.35" y="677.25" font-size="36.19" fill="#000" stroke="#000" stroke-width="0.9" stroke-linejoin="round" textLength="17.29" lengthAdjust="spacingAndGlyphs">R</text>
<text class="b" x="593.60" y="592.55" font-size="36.92" fill="#000" stroke="#000" stroke-width="0.9" stroke-linejoin="round" textLength="29.44" lengthAdjust="spacingAndGlyphs">O</text>
<text class="b" x="624.38" y="592.55" font-size="36.92" fill="#000" stroke="#000" stroke-width="0.9" stroke-linejoin="round" textLength="15.29" lengthAdjust="spacingAndGlyphs">F</text>
<text class="b" x="641.28" y="592.55" font-size="36.92" fill="#000" stroke="#000" stroke-width="0.9" stroke-linejoin="round" textLength="15.29" lengthAdjust="spacingAndGlyphs">F</text>
<text class="b" x="658.25" y="592.55" font-size="36.92" fill="#000" stroke="#000" stroke-width="0.9" stroke-linejoin="round" textLength="16.25" lengthAdjust="spacingAndGlyphs">S</text>
<text class="b" x="676.86" y="592.55" font-size="36.92" fill="#000" stroke="#000" stroke-width="0.9" stroke-linejoin="round" textLength="8.68" lengthAdjust="spacingAndGlyphs">I</text>
<text class="b" x="687.22" y="592.55" font-size="36.92" fill="#000" stroke="#000" stroke-width="0.9" stroke-linejoin="round" textLength="22.96" lengthAdjust="spacingAndGlyphs">D</text>
<text class="b" x="712.63" y="592.55" font-size="36.92" fill="#000" stroke="#000" stroke-width="0.9" stroke-linejoin="round" textLength="16.17" lengthAdjust="spacingAndGlyphs">E</text>
<text class="b" x="613.84" y="633.55" font-size="34.59" fill="#000" stroke="#000" stroke-width="0.9" stroke-linejoin="round" textLength="17.41" lengthAdjust="spacingAndGlyphs">R</text>
<text class="b" x="633.62" y="633.55" font-size="34.59" fill="#000" stroke="#000" stroke-width="0.9" stroke-linejoin="round" textLength="9.26" lengthAdjust="spacingAndGlyphs">I</text>
<text class="b" x="644.27" y="633.55" font-size="34.59" fill="#000" stroke="#000" stroke-width="0.9" stroke-linejoin="round" textLength="28.13" lengthAdjust="spacingAndGlyphs">G</text>
<text class="b" x="673.19" y="633.55" font-size="34.59" fill="#000" stroke="#000" stroke-width="0.9" stroke-linejoin="round" textLength="22.23" lengthAdjust="spacingAndGlyphs">H</text>
<text class="b" x="696.78" y="633.55" font-size="34.59" fill="#000" stroke="#000" stroke-width="0.9" stroke-linejoin="round" textLength="14.42" lengthAdjust="spacingAndGlyphs">T</text>
<text class="b" x="612.14" y="677.05" font-size="35.90" fill="#000" stroke="#000" stroke-width="0.9" stroke-linejoin="round" textLength="23.90" lengthAdjust="spacingAndGlyphs">D</text>
<text class="b" x="638.42" y="677.05" font-size="35.90" fill="#000" stroke="#000" stroke-width="0.9" stroke-linejoin="round" textLength="16.50" lengthAdjust="spacingAndGlyphs">R</text>
<text class="b" x="656.77" y="677.05" font-size="35.90" fill="#000" stroke="#000" stroke-width="0.9" stroke-linejoin="round" textLength="9.45" lengthAdjust="spacingAndGlyphs">I</text>
<text class="b" x="666.11" y="677.05" font-size="35.90" fill="#000" stroke="#000" stroke-width="0.9" stroke-linejoin="round" textLength="22.97" lengthAdjust="spacingAndGlyphs">V</text>
<text class="b" x="691.82" y="677.05" font-size="35.90" fill="#000" stroke="#000" stroke-width="0.9" stroke-linejoin="round" textLength="16.29" lengthAdjust="spacingAndGlyphs">E</text>
<text class="b" x="711.65" y="677.05" font-size="35.90" fill="#000" stroke="#000" stroke-width="0.9" stroke-linejoin="round" textLength="17.29" lengthAdjust="spacingAndGlyphs">R</text>
<text class="r" x="114.49" y="302.45" font-size="46.80" fill="#fff" stroke="#fff" stroke-width="0.9" stroke-linejoin="round" textLength="20.06" lengthAdjust="spacingAndGlyphs">L</text>
<text class="r" x="137.32" y="302.45" font-size="46.80" fill="#fff" stroke="#fff" stroke-width="0.9" stroke-linejoin="round" textLength="21.41" lengthAdjust="spacingAndGlyphs">E</text>
<text class="r" x="161.86" y="302.45" font-size="46.80" fill="#fff" stroke="#fff" stroke-width="0.9" stroke-linejoin="round" textLength="20.00" lengthAdjust="spacingAndGlyphs">F</text>
<text class="r" x="183.94" y="302.45" font-size="46.80" fill="#fff" stroke="#fff" stroke-width="0.9" stroke-linejoin="round" textLength="27.44" lengthAdjust="spacingAndGlyphs">T</text>
<text class="r" x="643.28" y="303.45" font-size="34.88" fill="#fff" stroke="#fff" stroke-width="0.9" stroke-linejoin="round" textLength="19.95" lengthAdjust="spacingAndGlyphs">R</text>
<text class="r" x="664.38" y="303.45" font-size="34.88" fill="#fff" stroke="#fff" stroke-width="0.9" stroke-linejoin="round" textLength="9.53" lengthAdjust="spacingAndGlyphs">I</text>
<text class="r" x="674.64" y="303.45" font-size="34.88" fill="#fff" stroke="#fff" stroke-width="0.9" stroke-linejoin="round" textLength="24.90" lengthAdjust="spacingAndGlyphs">G</text>
<text class="r" x="701.90" y="303.45" font-size="34.88" fill="#fff" stroke="#fff" stroke-width="0.9" stroke-linejoin="round" textLength="21.59" lengthAdjust="spacingAndGlyphs">H</text>
<text class="r" x="724.76" y="303.45" font-size="34.88" fill="#fff" stroke="#fff" stroke-width="0.9" stroke-linejoin="round" textLength="18.80" lengthAdjust="spacingAndGlyphs">T</text>
<path d="M275.2,566.2 L278.2,566.2 L267,596.6 L264,596.6Z" fill="#000"/>
<path d="M226.4,607.7 L229.4,607.7 L218.2,638.3 L215.2,638.3Z" fill="#000"/>
<path d="M741.2,566 L744.2,566 L732.8,596.4 L729.8,596.4Z" fill="#000"/>
<path d="M723.2,607.9 L726.2,607.9 L714.4,638.2 L711.4,638.2Z" fill="#000"/>
</svg>
</body></html>
